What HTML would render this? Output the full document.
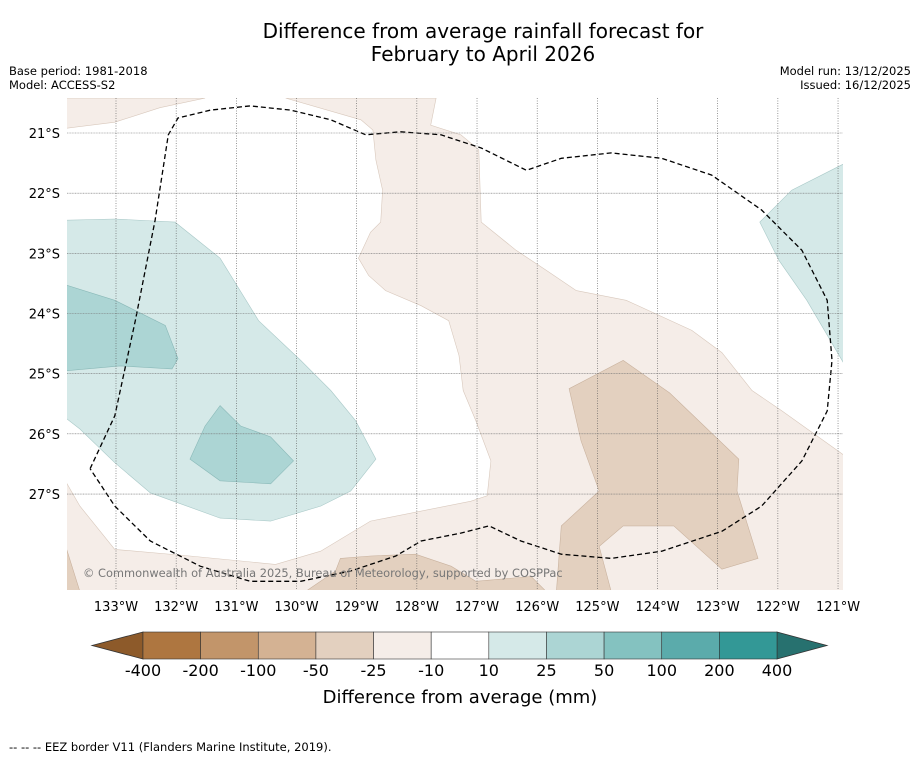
<!DOCTYPE html>
<html><head><meta charset="utf-8"><style>
body{margin:0;background:#fff;font-family:"Liberation Sans","DejaVu Sans",sans-serif;}
svg text{font-family:"DejaVu Sans","Liberation Sans",sans-serif;}
</style></head><body>
<svg id="c" width="919" height="758" viewBox="0 0 919 758" xmlns="http://www.w3.org/2000/svg">
<text x="483" y="38" font-size="20" text-anchor="middle">Difference from average rainfall forecast for</text>
<text x="483" y="61" font-size="20" text-anchor="middle">February to April 2026</text>
<text x="9" y="75" font-size="11.5">Base period: 1981-2018</text>
<text x="9" y="89" font-size="11.5">Model: ACCESS-S2</text>
<text x="911" y="75" font-size="11.5" text-anchor="end">Model run: 13/12/2025</text>
<text x="911" y="89" font-size="11.5" text-anchor="end">Issued: 16/12/2025</text>
<defs><clipPath id="mc"><rect x="67" y="98" width="776" height="492"/></clipPath></defs>
<g id="map" clip-path="url(#mc)"></g>
<g id="grid"></g>
<g id="ticks"></g>
<text x="83" y="577" font-size="11.4" fill="#777">© Commonwealth of Australia 2025, Bureau of Meteorology, supported by COSPPac</text>
<g id="cbar"></g>
<text x="460" y="703" font-size="18" text-anchor="middle">Difference from average (mm)</text>
<text x="9" y="751" font-size="11.5">--  --  -- EEZ border V11 (Flanders Marine Institute, 2019).</text>
</svg>
<script>
const lonTicks=[-133,-132,-131,-130,-129,-128,-127,-126,-125,-124,-123,-122,-121];
const latTicks=[-21,-22,-23,-24,-25,-26,-27];
const cbarLabels=["-400","-200","-100","-50","-25","-10","10","25","50","100","200","400"];
const cbarColors=["#ae7640","#c2956a","#d4b293","#e3d0bf","#f5ede8","#ffffff","#d5e9e8","#acd5d4","#84c2c0","#5babab","#339896"];
const brownLight1=[[-133.82,-20.92],[-133.02,-20.82],[-132.27,-20.58],[-131.52,-20.42],[-133.82,-20.42]];
const brownLight2=[[-130.18,-20.42],[-128.93,-20.78],[-128.73,-20.95],[-128.68,-21.45],[-128.57,-21.95],[-128.60,-22.48],[-128.77,-22.65],[-128.97,-23.08],[-128.80,-23.37],[-128.52,-23.62],[-127.93,-23.87],[-127.47,-24.12],[-127.30,-24.70],[-127.23,-25.28],[-127.02,-25.78],[-126.77,-26.45],[-126.83,-27.03],[-127.10,-27.12],[-128.77,-27.45],[-129.60,-27.95],[-130.35,-28.17],[-131.77,-28.03],[-133.02,-27.92],[-133.60,-27.20],[-133.82,-26.82],[-133.82,-28.62],[-120.88,-28.62],[-120.88,-26.37],[-121.93,-25.62],[-122.43,-25.28],[-122.93,-24.65],[-123.43,-24.28],[-124.52,-23.78],[-125.35,-23.62],[-125.85,-23.28],[-126.35,-22.95],[-126.93,-22.48],[-126.97,-21.28],[-127.27,-21.03],[-127.77,-20.87],[-127.68,-20.42]];
const brownMid1=[[-125.47,-25.25],[-124.57,-24.78],[-123.80,-25.32],[-122.65,-26.42],[-122.68,-26.95],[-122.33,-28.07],[-122.93,-28.25],[-123.73,-27.53],[-124.57,-27.53],[-124.97,-27.87],[-124.77,-28.62],[-125.68,-28.62],[-125.60,-27.53],[-124.97,-26.95],[-125.27,-26.12]];
const brownMid2=[[-129.27,-28.07],[-128.77,-28.03],[-128.02,-28.00],[-127.43,-28.20],[-127.02,-28.45],[-126.10,-28.37],[-125.85,-28.62],[-129.85,-28.62],[-129.35,-28.28]];
const brownMid3=[[-133.82,-27.92],[-133.60,-28.62],[-133.82,-28.62]];
const tealLight1=[[-133.82,-22.45],[-133.02,-22.43],[-132.02,-22.48],[-131.27,-23.08],[-130.63,-24.12],[-129.93,-24.78],[-129.43,-25.28],[-129.02,-25.78],[-128.68,-26.42],[-129.10,-26.95],[-129.60,-27.20],[-130.43,-27.45],[-131.27,-27.40],[-132.43,-26.98],[-133.02,-26.48],[-133.60,-25.92],[-133.82,-25.75]];
const tealLight2=[[-122.30,-22.48],[-121.77,-21.95],[-120.88,-21.50],[-120.88,-24.87],[-121.52,-23.78],[-121.98,-23.12]];
const tealMid1=[[-133.82,-23.53],[-133.02,-23.78],[-132.18,-24.20],[-131.97,-24.75],[-132.07,-24.92],[-132.93,-24.87],[-133.82,-24.95]];
const tealMid2=[[-131.77,-26.42],[-131.52,-25.87],[-131.27,-25.53],[-130.93,-25.87],[-130.43,-26.05],[-130.05,-26.45],[-130.43,-26.83],[-131.27,-26.78]];
const eez=[[-133.43,-26.58],[-133.02,-25.70],[-132.68,-24.12],[-132.35,-22.45],[-132.13,-21.03],[-131.97,-20.75],[-131.43,-20.62],[-130.77,-20.55],[-130.10,-20.62],[-129.43,-20.78],[-128.85,-21.03],[-128.27,-20.98],[-127.60,-21.03],[-126.93,-21.25],[-126.18,-21.62],[-125.60,-21.42],[-124.77,-21.33],[-123.93,-21.42],[-123.10,-21.70],[-122.27,-22.28],[-121.60,-22.95],[-121.18,-23.78],[-121.10,-24.78],[-121.18,-25.62],[-121.60,-26.45],[-122.27,-27.20],[-122.93,-27.62],[-123.93,-27.95],[-124.77,-28.07],[-125.60,-28.00],[-126.27,-27.78],[-126.80,-27.53],[-127.27,-27.65],[-127.93,-27.78],[-128.35,-28.03],[-129.10,-28.28],[-129.93,-28.45],[-130.77,-28.45],[-131.60,-28.20],[-132.43,-27.78],[-133.02,-27.20],[-133.43,-26.58]];
const NS="http://www.w3.org/2000/svg";
const X=lon=>116+(lon+133)*60.17, Y=lat=>133+(-21-lat)*60.17;
function mk(t,a,p){const e=document.createElementNS(NS,t);for(const k in a)e.setAttribute(k,a[k]);p.appendChild(e);return e;}
const map=document.getElementById('map');
const pts=arr=>arr.map(p=>X(p[0]).toFixed(1)+","+Y(p[1]).toFixed(1)).join(" ");
const layers=[[brownLight1,"#f5ede8","#d8c8bc","brown-light-top"],[brownLight2,"#f5ede8","#d8c8bc","brown-light-band"],[brownMid1,"#e3d0bf","#c9b29e","brown-mid-east"],[brownMid2,"#e3d0bf","#c9b29e","brown-mid-south"],[brownMid3,"#e3d0bf","#c9b29e","brown-mid-corner"],[tealLight1,"#d5e9e8","#a9c9c8","teal-light-west"],[tealLight2,"#d5e9e8","#a9c9c8","teal-light-east"],[tealMid1,"#acd5d4","#8ab9b8","teal-mid-west"],[tealMid2,"#acd5d4","#8ab9b8","teal-mid-south"]];
layers.forEach(l=>{const e=mk('polygon',{points:pts(l[0]),fill:l[1],stroke:l[2],'stroke-width':0.6},map);

});
const g=document.getElementById('grid'),tk=document.getElementById('ticks');
lonTicks.forEach(v=>{const l=mk('line',{x1:X(v),x2:X(v),y1:98,y2:590,stroke:'#555','stroke-width':0.6,'stroke-dasharray':'1,1.5'},g);


const t=mk('text',{x:X(v),y:611,'font-size':13,'text-anchor':'middle'},tk);t.textContent=(-v)+"°W";

});
latTicks.forEach(v=>{const l=mk('line',{x1:67,x2:843,y1:Y(v),y2:Y(v),stroke:'#777','stroke-width':0.6,'stroke-dasharray':'1,0.6'},g);


const t=mk('text',{x:60,y:Y(v)+5,'font-size':13,'text-anchor':'end'},tk);t.textContent=(-v)+"°S";

});
const ez=mk('polyline',{points:pts(eez),fill:'none',stroke:'#000','stroke-width':1.3,'stroke-dasharray':'5,3'},map);


const cb=document.getElementById('cbar');const x0=143,x1=777,w=(x1-x0)/cbarColors.length,cy=632,ch=27;
const la=mk('polygon',{points:`${x0},${cy} ${x0},${cy+ch} 92,${cy+ch/2}`,fill:'#8d5a2a',stroke:'#333','stroke-width':0.8},cb);


const ra=mk('polygon',{points:`${x1},${cy} ${x1},${cy+ch} 827,${cy+ch/2}`,fill:'#27716f',stroke:'#333','stroke-width':0.8},cb);


cbarColors.forEach((c,i)=>{const r=mk('rect',{x:x0+i*w,y:cy,width:w,height:ch,fill:c,stroke:'#333','stroke-width':0.6},cb);

});
cbarLabels.forEach((s,i)=>{const t=mk('text',{x:x0+i*w,y:676,'font-size':16,'text-anchor':'middle'},cb);t.textContent=s;

});
</script>
</body></html>
